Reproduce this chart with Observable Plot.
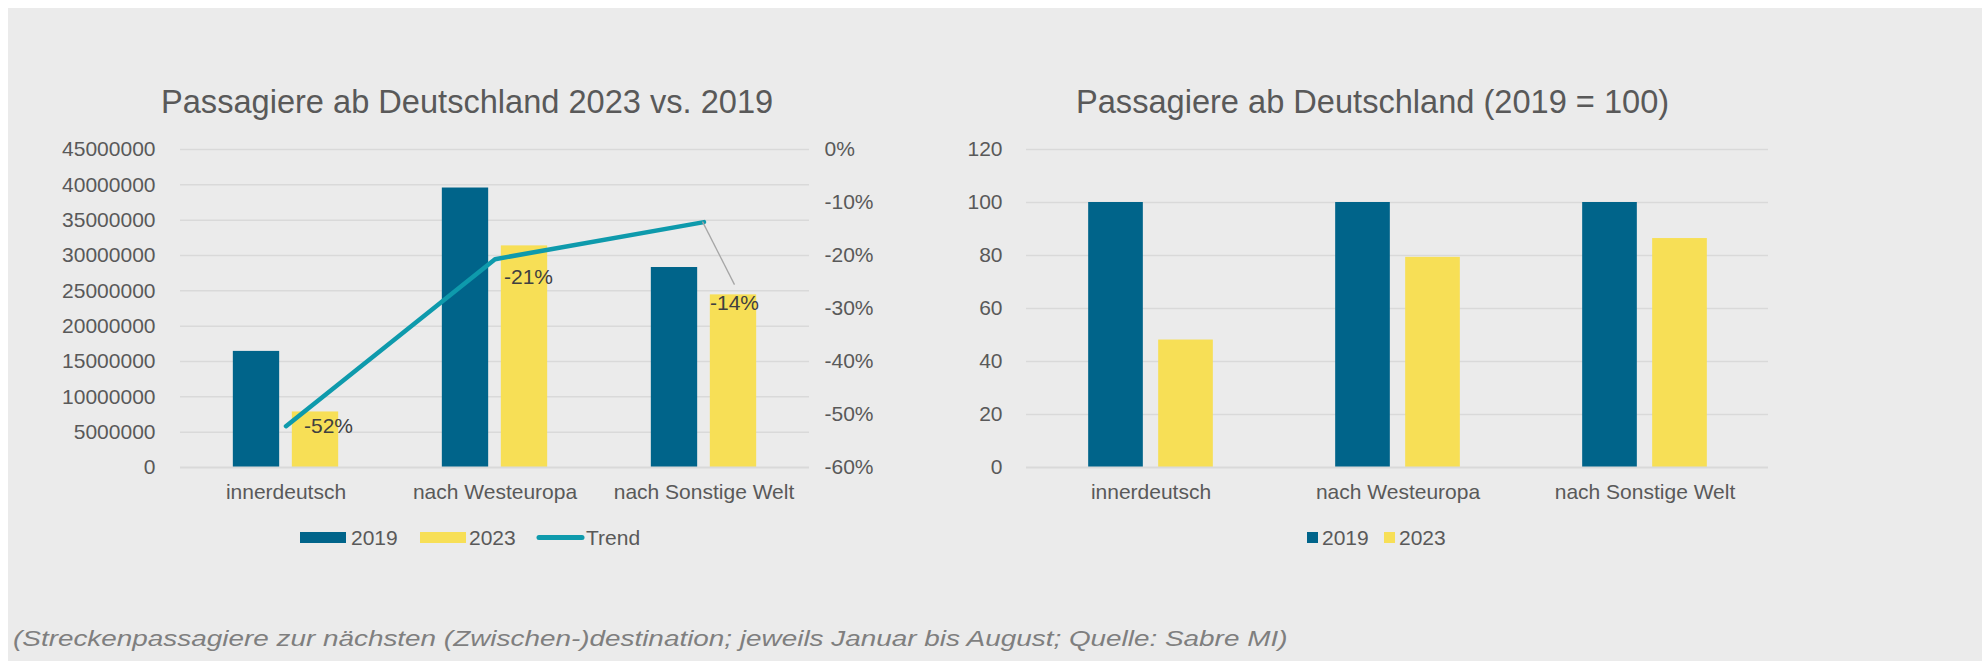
<!DOCTYPE html>
<html>
<head>
<meta charset="utf-8">
<script src="https://cdn.jsdelivr.net/npm/d3@7"></script>
<script src="https://cdn.jsdelivr.net/npm/@observablehq/plot@0.6"></script>
<style>
  html, body { margin: 0; padding: 0; background: #ffffff; }
  #page { position: relative; width: 1982px; height: 661px; overflow: hidden; background: #ffffff; }
  #panel { position: absolute; left: 8px; top: 8px; width: 1974px; height: 653px; background: #ebebeb; }
  #page svg { position: absolute; overflow: visible; }
</style>
</head>
<body>
<div id="page"><div id="panel"></div></div>
<script>
// ---------- data ----------
const categories = ["innerdeutsch", "nach Westeuropa", "nach Sonstige Welt"];
const seriesNames = ["2019", "2023"];
const pax2019 = [16430000, 39550000, 28300000];
const pax2023 = [7860000, 31360000, 24430000];
const trendPct = [-0.522, -0.207, -0.137];
const trendLabels = ["-52%", "-21%", "-14%"];
const index2019 = [100, 100, 100];
const index2023 = [48.1, 79.3, 86.4];
const leftTicks = [0, 5000000, 10000000, 15000000, 20000000, 25000000, 30000000, 35000000, 40000000, 45000000];
const rightTicks = [-0.6, -0.5, -0.4, -0.3, -0.2, -0.1, 0];
const indexTicks = [0, 20, 40, 60, 80, 100, 120];
const titleLeft = "Passagiere ab Deutschland 2023 vs. 2019";
const titleRight = "Passagiere ab Deutschland (2019 = 100)";
const caption = "(Streckenpassagiere zur nächsten (Zwischen-)destination; jeweils Januar bis August; Quelle: Sabre MI)";

// ---------- styles ----------
const C2019 = "#00648a", C2023 = "#f7df56", CTREND = "#0e9aac";
const GRID = "#d9d9d9", TXT = "#595959", LBL = "#404040";
const FONT = "'Liberation Sans', Arial, sans-serif";

// secondary axis mapping (percent -> left axis units)
const yMax = 45000000, pMin = -0.6, pMax = 0;
const toLeft = p => (p - pMin) / (pMax - pMin) * yMax;
const fromLeft = v => v / yMax * (pMax - pMin) + pMin;
const pctFmt = p => { const r = Math.round(p * 100); return (r === 0 ? "0" : String(r)) + "%"; };

const rows = categories.map((c, i) => ({
  cat: c, v2019: pax2019[i], v2023: pax2023[i],
  i2019: index2019[i], i2023: index2023[i],
  trendY: toLeft(trendPct[i]), label: trendLabels[i]
}));

const page = document.getElementById("page");

// ---------- left chart ----------
const LW = 960, LH = 560, LML = 180, LMR = 151, LMT = 149, LMB = 93;
const bwL = (LW - LML - LMR) / categories.length;
const left = Plot.plot({
  width: LW, height: LH,
  marginLeft: LML, marginRight: LMR, marginTop: LMT, marginBottom: LMB,
  style: { background: "transparent", fontFamily: FONT, fontSize: "21px", color: TXT },
  x: { type: "band", domain: categories, padding: 0, label: null },
  y: { domain: [0, yMax], label: null },
  marks: [
    Plot.ruleY(leftTicks.filter(d => d > 0), { stroke: GRID, strokeWidth: 1.5 }),
    Plot.axisY({ ticks: leftTicks, tickSize: 0, tickPadding: 25, tickFormat: d3.format("d"), fontSize: 21, color: TXT, label: null }),
    Plot.axisY({ anchor: "right", ticks: rightTicks.map(toLeft), tickSize: 0, tickPadding: 15,
                 tickFormat: v => pctFmt(fromLeft(v)), fontSize: 21, color: TXT, label: null }),
    Plot.axisX({ tickSize: 0, tickPadding: 17, fontSize: 21, color: TXT, label: null }),
    Plot.barY(rows, { x: "cat", y: "v2019", fill: C2019, insetLeft: bwL / 2 - 53, insetRight: bwL / 2 + 6 }),
    Plot.barY(rows, { x: "cat", y: "v2023", fill: C2023, insetLeft: bwL / 2 + 6, insetRight: bwL / 2 - 53 }),
    Plot.ruleY([0], { stroke: GRID, strokeWidth: 2 }),
    Plot.line(rows, { x: "cat", y: "trendY", stroke: CTREND, strokeWidth: 4.5, strokeLinecap: "round", strokeLinejoin: "round" }),
    Plot.text([rows[0]], { x: "cat", y: "trendY", text: "label", textAnchor: "start", dx: 18, dy: 0, fill: LBL, fontSize: 21 }),
    Plot.text([rows[1]], { x: "cat", y: "trendY", text: "label", textAnchor: "start", dx: 9, dy: 18, fill: LBL, fontSize: 21 }),
    Plot.text([rows[2]], { x: "cat", y: "trendY", text: "label", textAnchor: "start", dx: 6, dy: 81, fill: LBL, fontSize: 21 })
  ]
});
left.style.left = "0px"; left.style.top = "0px";
// leader line for the last data label, positioned through the plot's scales
{
  const sx = left.scale("x"), sy = left.scale("y");
  const r = rows[2];
  const x0 = sx.apply(r.cat) + sx.bandwidth / 2, y0 = sy.apply(r.trendY);
  d3.select(left).append("line")
    .attr("x1", x0 - 1).attr("y1", y0)
    .attr("x2", x0 + 31).attr("y2", y0 + 63)
    .attr("stroke", "#a6a6a6").attr("stroke-width", 1.3);
}
page.appendChild(left);

// ---------- right chart ----------
const RW = 1022, RH = 560, RML = 66, RMR = 214, RMT = 149, RMB = 93;
const bwR = (RW - RML - RMR) / categories.length;
const right = Plot.plot({
  width: RW, height: RH,
  marginLeft: RML, marginRight: RMR, marginTop: RMT, marginBottom: RMB,
  style: { background: "transparent", fontFamily: FONT, fontSize: "21px", color: TXT },
  x: { type: "band", domain: categories, padding: 0, label: null },
  y: { domain: [0, 120], label: null },
  marks: [
    Plot.ruleY(indexTicks.filter(d => d > 0), { stroke: GRID, strokeWidth: 1.5 }),
    Plot.axisY({ ticks: indexTicks, tickSize: 0, tickPadding: 24, tickFormat: d3.format("d"), fontSize: 21, color: TXT, label: null }),
    Plot.axisX({ tickSize: 0, tickPadding: 17, fontSize: 21, color: TXT, label: null }),
    Plot.barY(rows, { x: "cat", y: "i2019", fill: C2019, insetLeft: bwR / 2 - 62.5, insetRight: bwR / 2 + 7.5 }),
    Plot.barY(rows, { x: "cat", y: "i2023", fill: C2023, insetLeft: bwR / 2 + 7.5, insetRight: bwR / 2 - 62.5 }),
    Plot.ruleY([0], { stroke: GRID, strokeWidth: 2 })
  ]
});
right.style.left = "960px"; right.style.top = "0px";
page.appendChild(right);

// ---------- titles, legends, caption ----------
const ov = d3.select(page).append("svg")
  .attr("width", 1982).attr("height", 661)
  .style("left", "0px").style("top", "0px")
  .style("font-family", FONT);

ov.append("text").attr("x", 161).attr("y", 113).attr("font-size", 32.6).attr("fill", TXT).text(titleLeft);
ov.append("text").attr("x", 1076).attr("y", 113).attr("font-size", 32.6).attr("fill", TXT).text(titleRight);

// left legend
const lg = ov.append("g").attr("font-size", 21).attr("fill", TXT);
lg.append("rect").attr("x", 300).attr("y", 532).attr("width", 46).attr("height", 11).attr("fill", C2019);
lg.append("text").attr("x", 351).attr("y", 545).text(seriesNames[0]);
lg.append("rect").attr("x", 420).attr("y", 532).attr("width", 46).attr("height", 11).attr("fill", C2023);
lg.append("text").attr("x", 469).attr("y", 545).text(seriesNames[1]);
lg.append("line").attr("x1", 539).attr("x2", 582).attr("y1", 537.5).attr("y2", 537.5)
  .attr("stroke", CTREND).attr("stroke-width", 5).attr("stroke-linecap", "round");
lg.append("text").attr("x", 586).attr("y", 545).text("Trend");

// right legend
const rg = ov.append("g").attr("font-size", 21).attr("fill", TXT);
rg.append("rect").attr("x", 1307).attr("y", 532).attr("width", 11).attr("height", 11).attr("fill", C2019);
rg.append("text").attr("x", 1322).attr("y", 545).text(seriesNames[0]);
rg.append("rect").attr("x", 1384).attr("y", 532).attr("width", 11).attr("height", 11).attr("fill", C2023);
rg.append("text").attr("x", 1399).attr("y", 545).text(seriesNames[1]);

// caption (horizontally stretched like the reference)
ov.append("text").attr("transform", "translate(13,646) scale(1.268,1)")
  .attr("font-size", 22).attr("font-style", "italic")
  .attr("fill", "#7f7f7f").text(caption);
</script>
</body>
</html>
